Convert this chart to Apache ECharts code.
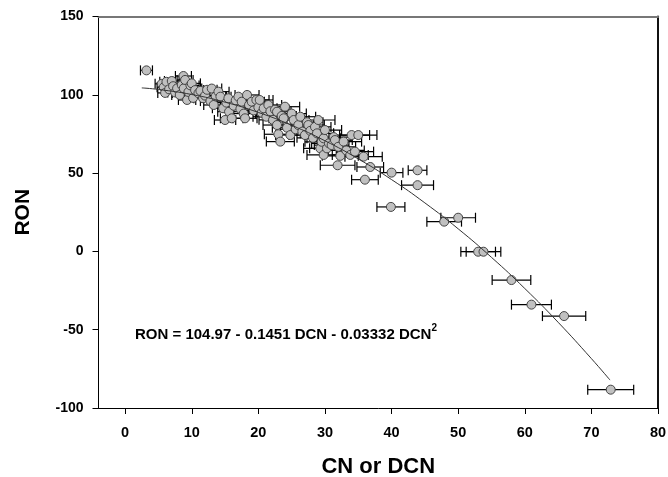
<!DOCTYPE html>
<html>
<head>
<meta charset="utf-8">
<script src="https://cdn.jsdelivr.net/npm/echarts@6/dist/echarts.min.js"></script>
<style>html,body{margin:0;padding:0;background:#fff}#c{width:668px;height:477px}</style>
</head>
<body>
<div id="c"></div>
<script>
// measured points: DCN value, RON value, horizontal error (half-width)
const dcn = [3.2,5.5,5.8,6.0,6.2,6.6,7.0,7.2,7.5,7.8,8.2,8.5,8.75,8.8,9.0,9.3,9.5,9.8,10.0,10.2,10.5,11.0,11.3,11.7,12.0,12.3,12.8,13.0,13.3,13.6,14.0,14.3,14.7,15.0,15.2,15.5,15.6,16.0,16.3,16.6,17.0,17.3,17.5,17.8,18.0,18.3,18.6,19.0,19.3,19.7,20.0,20.2,20.5,20.8,21.2,21.5,21.8,22.2,22.5,22.8,22.8,23.0,23.3,23.5,23.8,24.0,24.3,24.8,25.0,25.3,25.6,26.0,26.3,26.6,27.0,27.3,27.5,27.8,28.2,28.5,28.8,29.0,29.3,29.5,29.8,29.8,30.0,30.3,30.6,31.0,31.3,31.5,31.9,32.0,32.3,32.8,33.2,33.8,34.0,34.5,35.0,35.8,36.0,36.8,40.0,43.9,43.9,39.9,47.9,50.0,53.0,53.8,58.0,61.0,65.9,72.9];
const ron = [115.6,107.0,104.8,101.2,108.3,103.5,108.8,105.5,101.5,104.1,99.9,106.3,112.0,104.1,109.5,96.7,101.8,106.0,107.3,98.0,103.0,101.0,102.5,97.8,99.5,103.2,96.0,104.0,93.5,99.0,102.0,98.8,91.4,83.9,95.0,97.8,89.2,85.0,93.0,96.5,98.8,91.0,95.6,88.0,85.0,99.9,93.5,95.6,90.0,96.7,92.0,96.7,88.5,91.4,86.0,93.5,89.5,84.0,90.5,89.2,80.7,74.8,70.1,86.5,85.0,92.4,79.0,74.3,88.0,83.9,78.0,80.7,86.0,76.5,74.3,82.5,80.7,77.0,72.5,79.5,75.4,83.9,65.8,70.0,72.2,61.6,77.5,65.8,69.0,67.9,73.0,71.1,55.0,66.8,61.0,70.1,64.5,61.6,74.3,63.7,74.3,60.5,45.8,53.9,50.3,51.8,42.3,28.4,19.0,21.5,-0.2,-0.2,-18.3,-34.0,-41.3,-88.3];
const err = [0.9,1.0,1.0,1.1,1.0,1.1,1.1,1.1,1.1,1.2,1.2,1.2,1.2,1.2,1.2,1.3,1.3,1.3,1.3,1.3,1.3,1.4,1.4,1.4,1.4,1.5,1.5,1.5,1.5,1.5,1.6,1.6,1.6,1.6,1.6,1.7,1.7,1.7,1.7,1.7,1.8,1.8,1.8,1.8,1.8,1.8,1.9,1.9,1.9,1.9,2.0,2.0,2.0,2.0,2.0,2.0,2.1,2.1,2.1,2.1,2.1,2.1,2.1,2.2,2.2,2.2,2.2,2.2,2.2,2.3,2.3,2.3,2.3,2.3,2.4,2.4,2.4,2.4,2.4,2.4,2.5,2.5,2.5,2.5,2.5,2.5,2.5,2.6,2.6,2.6,2.6,2.6,2.6,2.6,2.7,2.7,2.7,2.7,2.7,2.8,2.8,2.8,2.0,2.0,1.7,1.4,2.4,2.1,2.6,2.6,2.6,2.6,2.9,3.0,3.25,3.45];
// fitted curve RON = 104.97 - 0.1451 DCN - 0.03332 DCN^2, tabulated
const fitX = [2.5,5,10,15,20,25,30,35,40,45,50,55,60,65,70,72.8];
const fitY = [104.40,103.41,100.19,95.30,88.74,80.52,70.63,59.07,45.85,30.97,14.42,-3.80,-23.69,-45.24,-68.46,-82.18];
const xTicks = [0,10,20,30,40,50,60,70,80];
const yTicks = [-100,-50,0,50,100,150];

const pts = dcn.map((x,i)=>[x, ron[i], err[i]]);
const fit = fitX.map((x,i)=>[x, fitY[i]]);
const FONT = 'Liberation Sans, Arial, sans-serif';

const chart = echarts.init(document.getElementById('c'), null, {renderer:'canvas'});
chart.setOption({
  animation:false,
  backgroundColor:'#fff',
  grid:{left:98.5, top:16.5, right:10, bottom:69, containLabel:false, outerBoundsMode:'none'},
  xAxis:[{
    type:'value', min:-4, max:80, position:'bottom',
    name:'CN or DCN', nameLocation:'middle', nameGap:48,
    nameTextStyle:{fontFamily:FONT, fontWeight:'bold', fontSize:22, color:'#000'},
    axisLine:{show:true, onZero:false, lineStyle:{color:'#000', width:1}},
    axisTick:{show:true, customValues:xTicks, length:6, inside:false, lineStyle:{color:'#000'}},
    axisLabel:{customValues:xTicks, fontFamily:FONT, fontWeight:'bold', fontSize:14.5, color:'#000', margin:17},
    splitLine:{show:false}
  },{
    type:'value', min:-4, max:80, position:'top',
    axisLine:{show:true, onZero:false, lineStyle:{color:'#777', width:2}},
    axisTick:{show:false}, axisLabel:{show:false}, splitLine:{show:false}
  }],
  yAxis:[{
    type:'value', min:yTicks[0], max:yTicks[yTicks.length-1], interval:50, position:'left',
    name:'RON', nameLocation:'middle', nameGap:64.5, nameRotate:90,
    nameTextStyle:{fontFamily:FONT, fontWeight:'bold', fontSize:21, color:'#000'},
    axisLine:{show:true, onZero:false, lineStyle:{color:'#000', width:1}},
    axisTick:{show:true, length:6, lineStyle:{color:'#000'}},
    axisLabel:{fontFamily:FONT, fontWeight:'bold', fontSize:14, color:'#000', margin:15},
    splitLine:{show:false}
  },{
    type:'value', min:yTicks[0], max:yTicks[yTicks.length-1], interval:50, position:'right',
    axisLine:{show:true, onZero:false, lineStyle:{color:'#111', width:2}},
    axisTick:{show:false}, axisLabel:{show:false}, splitLine:{show:false}
  }],
  series:[{
    type:'custom', name:'err', xAxisIndex:0, yAxisIndex:0,
    data:pts, z:2,
    renderItem:function(params, api){
      const x = api.value(0), y = api.value(1), e = api.value(2);
      const a = api.coord([x-e, y]), b = api.coord([x+e, y]);
      const st = {stroke:'#000', lineWidth:1.2};
      return {type:'group', children:[
        {type:'line', shape:{x1:a[0],y1:a[1],x2:b[0],y2:b[1]}, style:st},
        {type:'line', shape:{x1:a[0],y1:a[1]-5,x2:a[0],y2:a[1]+5}, style:st},
        {type:'line', shape:{x1:b[0],y1:b[1]-5,x2:b[0],y2:b[1]+5}, style:st}
      ]};
    }
  },{
    type:'scatter', data:pts.map(p=>[p[0],p[1]]), symbol:'circle', symbolSize:9, z:3,
    itemStyle:{color:'#c0c0c0', borderColor:'#444', borderWidth:1, opacity:1}
  },{
    type:'line', data:fit, smooth:true, symbol:'none', z:4,
    lineStyle:{color:'#333', width:1}
  }],
  graphic:[{
    type:'text', left:135, top:323, z:10,
    style:{
      text:'{m|RON = 104.97 - 0.1451 DCN - 0.03332 DCN}{s|2}',
      rich:{
        m:{fontFamily:FONT, fontWeight:'bold', fontSize:15, color:'#000', lineHeight:19, verticalAlign:'bottom'},
        s:{fontFamily:FONT, fontWeight:'bold', fontSize:10, color:'#000', lineHeight:19, verticalAlign:'top'}
      }
    }
  }]
});
</script>
</body>
</html>
